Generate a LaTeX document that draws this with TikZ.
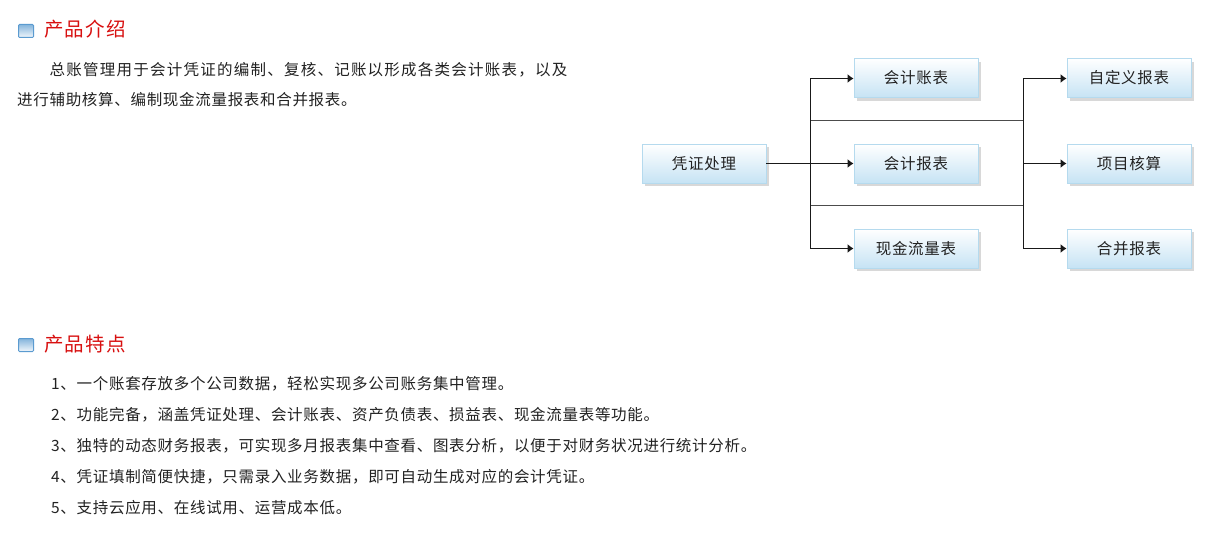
\documentclass[tikz,border=0pt]{standalone}
\usepackage{fontspec}
\setmainfont{Liberation Sans}
\newfontfamily\cjk[LetterSpace=4.5]{Noto Sans CJK SC}
\newfontfamily\cjkwide[LetterSpace=8]{Noto Sans CJK SC}
\newfontfamily\cjkhead[LetterSpace=6]{Noto Sans CJK SC}
\usetikzlibrary{arrows.meta,shadows}
\definecolor{headred}{HTML}{D81010}
\definecolor{boxedge}{HTML}{B5DAEE}
\definecolor{boxlow}{HTML}{C6E3F4}
\definecolor{shade}{HTML}{D8D8D8}
\definecolor{inktext}{HTML}{222222}
\definecolor{iconblue}{HTML}{5B9BD0}
\tikzset{
  flowbox/.style={rectangle,draw=boxedge,line width=0.9pt,top color=white,bottom color=boxlow,
    minimum width=124pt,minimum height=39pt,inner sep=0pt,text=inktext,
    font=\cjk\fontsize{15.5}{18}\selectfont,
    general shadow={shadow xshift=3pt,shadow yshift=-3.5pt,fill=shade}},
  headtext/.style={anchor=base west,inner sep=0pt,text=headred,font=\cjkhead\fontsize{19.5}{22}\selectfont},
  bodytext/.style={anchor=base west,inner sep=0pt,text=inktext,font=\cjk\fontsize{15.5}{18}\selectfont},
  widetext/.style={bodytext,font=\cjkwide\fontsize{15.5}{18}\selectfont},
  conn/.style={line width=1pt,draw=black!90},
  crossconn/.style={line width=1pt,draw=black!70},
  connarrow/.style={conn,-{Latex[length=6pt,width=9pt]}},
  iconframe/.style={rectangle,draw=iconblue,line width=1pt,top color=iconblue!75,bottom color=iconblue!8,rounded corners=1pt,minimum width=15pt,minimum height=13pt,inner sep=0pt}
}
\begin{document}
\begin{tikzpicture}[x=1pt,y=-1pt]
\useasboundingbox (0,0) rectangle (1219,540);
\fill[white] (0,0) rectangle (1219,540);
% headings
\node[iconframe] (icona) at (26,31) {};
\node[headtext] (heada) at (44,37) {产品介绍};
\node[iconframe] (iconb) at (26,345) {};
\node[headtext] (headb) at (44,351) {产品特点};
% paragraph
\node[widetext] (para1) at (49.5,75.5) {总账管理用于会计凭证的编制、复核、记账以形成各类会计账表，以及};
\node[bodytext] (para2) at (17,106) {进行辅助核算、编制现金流量报表和合并报表。};
% list
\node[bodytext] (li1) at (51,389) {1、一个账套存放多个公司数据，轻松实现多公司账务集中管理。};
\node[bodytext] (li2) at (51,420) {2、功能完备，涵盖凭证处理、会计账表、资产负债表、损益表、现金流量表等功能。};
\node[bodytext] (li3) at (51,451) {3、独特的动态财务报表，可实现多月报表集中查看、图表分析，以便于对财务状况进行统计分析。};
\node[bodytext] (li4) at (51,482) {4、凭证填制简便快捷，只需录入业务数据，即可自动生成对应的会计凭证。};
\node[bodytext] (li5) at (51,513) {5、支持云应用、在线试用、运营成本低。};
% boxes
\node[flowbox] (src) at (704,163.5) {凭证处理};
\node[flowbox] (m1) at (916,78) {会计账表};
\node[flowbox] (m2) at (916,163.5) {会计报表};
\node[flowbox] (m3) at (916,248.5) {现金流量表};
\node[flowbox] (r1) at (1129,78) {自定义报表};
\node[flowbox] (r2) at (1129,163.5) {项目核算};
\node[flowbox] (r3) at (1129,248.5) {合并报表};
% junctions
\coordinate (ja) at (810.5,163.5);
\coordinate (jb) at (810.5,121);
\coordinate (jc) at (810.5,206);
\coordinate (jd) at (1023.5,121);
\coordinate (je) at (1023.5,206);
\coordinate (jf) at (1023.5,163.5);
% connectors
\draw[connarrow] (src.east) -- (m2.west);
\draw[connarrow] (ja) |- ([yshift=-0.5pt]m1.west);
\draw[connarrow] (ja) |- (m3.west);
\draw[crossconn] (jb) -- (jd);
\draw[crossconn] (jc) -- (je);
\draw[connarrow] (jf) |- ([yshift=-0.5pt]r1.west);
\draw[connarrow] (jf) -- (r2.west);
\draw[connarrow] (jf) |- (r3.west);
\end{tikzpicture}
\end{document}
